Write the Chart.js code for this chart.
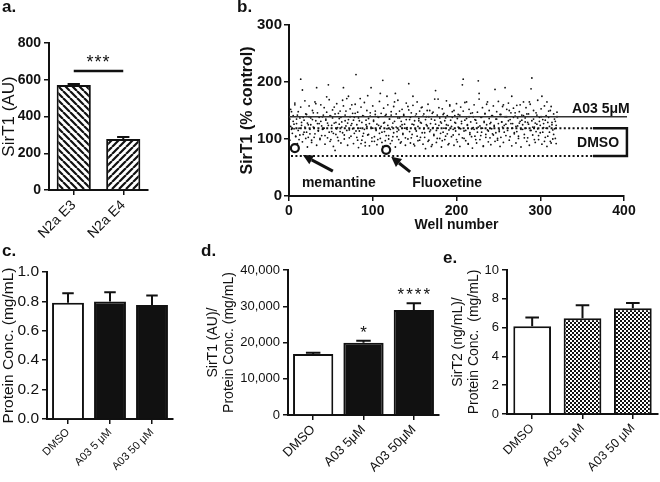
<!DOCTYPE html>
<html><head><meta charset="utf-8">
<script src="https://cdn.jsdelivr.net/npm/chart.js@4.4.0/dist/chart.umd.min.js"></script>
<style>
html,body{margin:0;padding:0;background:#fff;}
#wrap{position:relative;width:660px;height:482px;overflow:hidden;font-family:"Liberation Sans",Arial,sans-serif;}
.pc{position:absolute;}
.pc canvas{display:block;}
.lt{position:absolute;font-weight:bold;font-size:17px;line-height:17px;color:#111;}
</style></head><body>
<div id="wrap">
<div class="pc" style="left:0;top:0"><canvas id="ca" width="220" height="240"></canvas></div>
<div class="pc" style="left:220px;top:0"><canvas id="cb" width="440" height="240"></canvas></div>
<div class="pc" style="left:0;top:240px"><canvas id="cc" width="190" height="242"></canvas></div>
<div class="pc" style="left:190px;top:240px"><canvas id="cd" width="250" height="242"></canvas></div>
<div class="pc" style="left:440px;top:240px"><canvas id="ce" width="220" height="242"></canvas></div>
<div class="lt" style="left:2px;top:-2px">a.</div>
<div class="lt" style="left:237px;top:-2px">b.</div>
<div class="lt" style="left:2px;top:242px">c.</div>
<div class="lt" style="left:201px;top:242px">d.</div>
<div class="lt" style="left:443px;top:249px">e.</div>
</div>
<script>
// ---------- data ----------
const genotypes = ['N2a E3', 'N2a E4'];
const sirt1AU = [571, 277];
const sirt1AUsem = [6, 12];
const sigLineA = 648;
const sigLabelA = '***';

const wellRep1 = [
135,122,148,110,131,118,160,105,127,142,115,99,137,205,124,186,108,133,121,144,
112,128,103,139,117,125,98,134,146,120,109,162,190,127,114,138,101,131,123,117,
142,119,106,135,174,128,195,112,141,99,124,137,110,156,80,129,118,103,145,126,
113,138,121,168,190,107,132,149,115,128,175,102,139,124,160,118,133,110,145,213,
125,98,137,114,171,92,129,105,140,117,88,133,122,176,108,127,140,190,96,119,
131,104,143,117,126,99,138,110,180,122,94,203,128,113,141,106,175,124,100,135,
117,142,97,128,111,165,180,121,104,137,116,149,93,131,125,108,143,119,102,134,
120,157,197,113,138,102,126,175,91,132,117,144,105,122,136,98,129,155,111,140,
118,103,134,125,150,96,139,113,127,87,145,120,108,133,185,115,101,170,124,137,
110,128,97,143,119,132,105,125,141,90,116,160,305,122,138,107,150,129,114,99,
136,121,108,142,118,127,195,205,101,133,115,165,124,92,139,111,130,104,146,120,
117,134,99,128,112,202,180,123,106,138,119,87,131,145,108,125,165,114,136,102,
129,118,141,107,124,187,111,135,98,127,116,143,103,130,121,160,112,190,126,139,
115,132,150,104,127,175,119,138,109,146,122,113,137,101,128,160,117,133,125,141,
108,130,119,144,102,126,165,115,188,207,121,135,99,128,113,142,118,106,131,124,
139,175,112,127,96,133,119,165,105,138,122,150,93,129,116,108,135,101,124,147
];
const wellRep2 = [
98,152,117,88,141,126,163,104,135,92,148,119,107,156,129,95,138,112,167,101,
143,86,125,158,109,137,94,150,121,103,165,132,89,146,115,127,99,160,106,139,
118,155,91,133,147,102,124,169,96,140,113,151,87,128,144,108,162,120,97,136,
149,93,130,111,158,100,142,123,171,89,134,116,153,105,127,145,92,138,161,114,
103,147,85,132,119,156,98,141,110,164,94,125,150,107,136,88,146,121,102,158,
133,96,149,115,90,139,124,166,101,145,112,87,154,129,97,143,118,160,106,135,
92,148,121,104,157,131,86,144,113,168,99,137,122,95,152,110,141,126,89,163,
117,100,151,134,93,146,108,159,125,88,140,114,165,97,132,149,103,128,156,91,
144,111,83,139,123,161,98,150,116,135,90,147,106,170,126,94,142,119,155,101,
130,86,153,112,145,99,137,167,109,124,92,158,133,104,148,117,89,141,128,162,
95,143,120,87,156,131,102,149,114,164,97,136,125,91,152,108,145,118,84,139,
160,105,133,93,147,121,170,99,138,112,155,88,129,144,103,161,116,95,150,127,
90,141,109,158,122,96,135,148,101,166,113,87,143,130,157,94,124,139,106,152,
119,163,98,134,146,88,127,154,111,140,93,159,123,105,148,131,86,142,117,165,
102,137,155,96,129,144,89,161,115,132,107,150,121,94,146,126,168,99,138,111,
153,91,134,120,158,103,141,87,129,149,112,96,157,125,100,144,118,131,92,139
];
const hitNames = ['memantine', 'Fluoxetine'];
const hitWells = [7, 116];
const hitValues = [84, 81];
const a03Level = 139;
const a03Label = 'A03 5\u03bcM';
const dmsoRange = [70, 119];
const dmsoLabel = 'DMSO';

const treatC = ['DMSO', 'A03 5 \u03bcM', 'A03 50 \u03bcM'];
const proteinConc = [0.79, 0.80, 0.775];
const proteinSem = [0.065, 0.063, 0.065];

const treatD = ['DMSO', 'A03 5\u03bcM', 'A03 50\u03bcM'];
const sirt1Norm = [16800, 19900, 29000];
const sirt1NormSem = [400, 600, 1800];
const sigD = ['', '*', '****'];

const treatE = ['DMSO', 'A03 5 \u03bcM', 'A03 50 \u03bcM'];
const sirt2Norm = [6.1, 6.65, 7.35];
const sirt2NormSem = [0.6, 0.9, 0.35];

// ---------- helpers ----------
const FONT = '"Liberation Sans", Arial, sans-serif';
const INK = '#111';
Chart.defaults.font.family = FONT;
Chart.defaults.color = INK;
Chart.defaults.animation = false;
Chart.defaults.plugins.legend.display = false;
Chart.defaults.plugins.tooltip.enabled = false;

function yAxis(o) {
  const ax = {
    min: o.min, max: o.max,
    ticks: {stepSize: o.step, color: INK, padding: o.tpad ?? 3, font: {size: o.fs, weight: o.bold ? 'bold' : 'normal'}},
    grid: {drawOnChartArea: false, drawTicks: true, tickLength: 5, color: INK, lineWidth: 1.5},
    border: {display: true, color: INK, width: 2},
    title: {display: true, text: o.title, color: INK,
      font: {size: o.tfs, weight: o.tbold ? 'bold' : 'normal', lineHeight: 1.15},
      padding: {top: o.tp, bottom: 0}},
    afterFit(sc) { sc.width = o.w; }
  };
  if (o.fmt) ax.ticks.callback = o.fmt;
  return ax;
}
function xCat(o) {
  return {
    type: 'category', offset: true,
    grid: {drawOnChartArea: false, drawTicks: true, offset: false, tickLength: 5, color: INK, lineWidth: 1.5},
    border: {display: true, color: INK, width: 2},
    ticks: {minRotation: 45, maxRotation: 45, autoSkip: false, color: INK, padding: 2, font: {size: o.fs}},
    afterFit(sc) { sc.height = o.h; }
  };
}
function hatch(dir) {
  const s = 7, c = document.createElement('canvas'); c.width = c.height = s;
  const g = c.getContext('2d');
  g.fillStyle = '#fff'; g.fillRect(0, 0, s, s);
  g.strokeStyle = INK; g.lineWidth = 2.2; g.beginPath();
  for (const k of [-s, 0, s]) {
    if (dir === 'back') { g.moveTo(k, 0); g.lineTo(k + s, s); }
    else { g.moveTo(k, s); g.lineTo(k + s, 0); }
  }
  g.stroke();
  return g.createPattern(c, 'repeat');
}
function checker() {
  const c = document.createElement('canvas'); c.width = c.height = 4;
  const g = c.getContext('2d');
  g.fillStyle = '#fff'; g.fillRect(0, 0, 4, 4);
  g.fillStyle = INK; g.fillRect(0, 0, 2, 2); g.fillRect(2, 2, 2, 2);
  return g.createPattern(c, 'repeat');
}

const errPlugin = {
  id: 'errbars',
  afterDatasetsDraw(chart, args, opts) {
    if (!opts || !opts.sem) return;
    const meta = chart.getDatasetMeta(0);
    const vals = chart.data.datasets[0].data;
    const y = chart.scales.y, ctx = chart.ctx;
    ctx.save(); ctx.strokeStyle = INK; ctx.lineWidth = 2;
    meta.data.forEach((bar, i) => {
      const top = y.getPixelForValue(vals[i] + opts.sem[i]);
      const base = y.getPixelForValue(vals[i]);
      const half = bar.width * 0.18;
      ctx.beginPath();
      ctx.moveTo(bar.x, base); ctx.lineTo(bar.x, top);
      ctx.moveTo(bar.x - half, top); ctx.lineTo(bar.x + half, top);
      ctx.stroke();
    });
    ctx.restore();
  }
};
Chart.register(errPlugin);

function barDs(vals, fills, pct) {
  return {data: vals, backgroundColor: fills, borderColor: INK, borderWidth: 2,
    barPercentage: pct, categoryPercentage: 1};
}

// ---------- panel a ----------
new Chart(document.getElementById('ca'), {
  type: 'bar',
  data: {labels: genotypes, datasets: [barDs(sirt1AU, [hatch('back'), hatch('fwd')], 0.69)]},
  options: {
    responsive: false,
    layout: {padding: {left: 0, right: 72, top: 43, bottom: 0}},
    scales: {
      x: xCat({fs: 14, h: 50}),
      y: yAxis({min: 0, max: 800, step: 200, fs: 14, bold: true, title: 'SirT1 (AU)', tfs: 17, tp: 0, w: 49})
    },
    plugins: {errbars: {sem: sirt1AUsem}}
  },
  plugins: [{
    id: 'sigA',
    afterDraw(chart) {
      const ctx = chart.ctx, m = chart.getDatasetMeta(0).data;
      const py = chart.scales.y.getPixelForValue(sigLineA);
      ctx.save();
      ctx.strokeStyle = INK; ctx.lineWidth = 2.5;
      ctx.beginPath(); ctx.moveTo(m[0].x, py); ctx.lineTo(m[1].x, py); ctx.stroke();
      ctx.fillStyle = INK; ctx.font = '18px ' + FONT; ctx.textAlign = 'center';
      ctx.letterSpacing = '1px';
      ctx.fillText(sigLabelA, (m[0].x + m[1].x) / 2, py - 3);
      ctx.restore();
    }
  }]
});

// ---------- panel b ----------
const rep1Pts = wellRep1.map((v, i) => ({x: i + 1, y: v}));
const rep2Pts = wellRep2.map((v, i) => ({x: i + 1, y: v}));
const hitPts = hitWells.map((w, i) => ({x: w, y: hitValues[i]}));
const hitStyle = [
  {tip: [8, 7], tail: [38, 23], label: [44, 35]},
  {tip: [5, 7], tail: [24, 22], label: [61, 33]}
];
new Chart(document.getElementById('cb'), {
  type: 'scatter',
  data: {datasets: [
    {data: hitPts, pointRadius: 4, borderWidth: 2.2, borderColor: INK, backgroundColor: '#fff', order: 0},
    {data: rep1Pts, pointRadius: 0.9, borderWidth: 0, backgroundColor: INK, order: 1},
    {data: rep2Pts, pointRadius: 0.9, borderWidth: 0, backgroundColor: INK, order: 1}
  ]},
  options: {
    responsive: false,
    layout: {padding: {left: 0, right: 36, top: 25, bottom: 0}},
    scales: {
      x: {type: 'linear', min: 0, max: 400,
        ticks: {stepSize: 100, color: INK, padding: 2, font: {size: 14, weight: 'bold'}},
        grid: {drawOnChartArea: false, drawTicks: true, tickLength: 5, color: INK, lineWidth: 1.5},
        border: {display: true, color: INK, width: 2},
        title: {display: true, text: 'Well number', color: INK, font: {size: 14, weight: 'bold'}, padding: {top: 0, bottom: 6}},
        afterFit(sc) { sc.height = 44; }
      },
      y: yAxis({min: 0, max: 300, step: 100, fs: 15, bold: true, tpad: 2, title: 'SirT1 (% control)', tfs: 16, tbold: true, tp: 18, w: 69})
    }
  },
  plugins: [{
    id: 'annB',
    afterDraw(chart) {
      const ctx = chart.ctx, xs = chart.scales.x, ys = chart.scales.y;
      const x0 = xs.getPixelForValue(0), x400 = xs.getPixelForValue(400);
      const xDotEnd = xs.getPixelForValue(363), xBr = xs.getPixelForValue(403.5);
      ctx.save();
      ctx.strokeStyle = '#333'; ctx.lineWidth = 1.5;
      const ya = ys.getPixelForValue(a03Level);
      ctx.beginPath(); ctx.moveTo(x0, ya); ctx.lineTo(x400 + 3, ya); ctx.stroke();
      ctx.strokeStyle = INK; ctx.lineWidth = 2; ctx.setLineDash([2, 2.4]);
      const yl = ys.getPixelForValue(dmsoRange[0]), yh = ys.getPixelForValue(dmsoRange[1]);
      ctx.beginPath();
      ctx.moveTo(x0 + 2, yl); ctx.lineTo(xDotEnd, yl);
      ctx.moveTo(x0 + 2, yh); ctx.lineTo(xDotEnd, yh);
      ctx.stroke();
      ctx.setLineDash([]); ctx.lineWidth = 2.5;
      ctx.beginPath();
      ctx.moveTo(xDotEnd, yh); ctx.lineTo(xBr, yh); ctx.lineTo(xBr, yl); ctx.lineTo(xDotEnd, yl);
      ctx.stroke();
      ctx.fillStyle = INK; ctx.font = 'bold 14px ' + FONT;
      ctx.textAlign = 'left'; ctx.textBaseline = 'alphabetic';
      ctx.fillText(a03Label, xs.getPixelForValue(338), ya - 4);
      ctx.textAlign = 'center'; ctx.textBaseline = 'middle';
      ctx.fillText(dmsoLabel, xs.getPixelForValue(369), (yl + yh) / 2 + 1);
      // arrows + labels
      const hm = chart.getDatasetMeta(0).data;
      hm.forEach((pt, i) => {
        const st = hitStyle[i];
        const tx = pt.x + st.tip[0], ty = pt.y + st.tip[1];
        const sx = pt.x + st.tail[0], sy = pt.y + st.tail[1];
        const ang = Math.atan2(ty - sy, tx - sx);
        const hl = 10, hw = 5;
        const bx = tx - hl * Math.cos(ang), by = ty - hl * Math.sin(ang);
        ctx.lineWidth = 3; ctx.strokeStyle = INK;
        ctx.beginPath(); ctx.moveTo(sx, sy); ctx.lineTo(bx, by); ctx.stroke();
        ctx.beginPath();
        ctx.moveTo(tx, ty);
        ctx.lineTo(bx + hw * Math.sin(ang), by - hw * Math.cos(ang));
        ctx.lineTo(bx - hw * Math.sin(ang), by + hw * Math.cos(ang));
        ctx.closePath(); ctx.fill();
        ctx.font = 'bold 14px ' + FONT; ctx.textAlign = 'center'; ctx.textBaseline = 'middle';
        ctx.fillText(hitNames[i], pt.x + st.label[0], pt.y + st.label[1]);
      });
      ctx.restore();
    }
  }]
});

// ---------- panel c ----------
new Chart(document.getElementById('cc'), {
  type: 'bar',
  data: {labels: treatC, datasets: [barDs(proteinConc, ['#fff', INK, INK], 0.76)]},
  options: {
    responsive: false,
    layout: {padding: {left: 0, right: 17, top: 32, bottom: 0}},
    scales: {
      x: xCat({fs: 11, h: 63}),
      y: yAxis({min: 0, max: 1.0, step: 0.2, fs: 15.5, title: 'Protein Conc. (mg/mL)', tfs: 15.5, tp: 0, w: 47,
        fmt: v => Number(v).toFixed(1)})
    },
    plugins: {errbars: {sem: proteinSem}}
  }
});

// ---------- panel d ----------
new Chart(document.getElementById('cd'), {
  type: 'bar',
  data: {labels: treatD, datasets: [barDs(sirt1Norm, ['#fff', INK, INK], 0.8)]},
  options: {
    responsive: false,
    layout: {padding: {left: 0, right: 1, top: 30, bottom: 0}},
    scales: {
      x: xCat({fs: 13, h: 67}),
      y: yAxis({min: 0, max: 40000, step: 10000, fs: 13, title: ['SirT1 (AU)/', 'Protein Conc. (mg/mL)'], tfs: 14, tp: 15, w: 98,
        fmt: v => Number(v).toLocaleString('en-US')})
    },
    plugins: {errbars: {sem: sirt1NormSem}}
  },
  plugins: [{
    id: 'sigD',
    afterDraw(chart) {
      const ctx = chart.ctx, m = chart.getDatasetMeta(0).data, y = chart.scales.y;
      ctx.save(); ctx.fillStyle = INK; ctx.font = '17px ' + FONT;
      ctx.textAlign = 'center'; ctx.letterSpacing = '2px';
      sigD.forEach((s, i) => {
        if (!s) return;
        ctx.fillText(s, m[i].x + 1, y.getPixelForValue(sirt1Norm[i] + sirt1NormSem[i]) - 3);
      });
      ctx.restore();
    }
  }]
});

// ---------- panel e ----------
new Chart(document.getElementById('ce'), {
  type: 'bar',
  data: {labels: treatE, datasets: [barDs(sirt2Norm, ['#fff', checker(), checker()], 0.75)]},
  options: {
    responsive: false,
    layout: {padding: {left: 0, right: 2, top: 30, bottom: 0}},
    scales: {
      x: xCat({fs: 12.5, h: 68}),
      y: yAxis({min: 0, max: 10, step: 2, fs: 13, title: ['SirT2 (ng/mL)/', 'Protein Conc.  (mg/mL)'], tfs: 14, tp: 10, w: 67})
    },
    plugins: {errbars: {sem: sirt2NormSem}}
  }
});
</script>
</body></html>
